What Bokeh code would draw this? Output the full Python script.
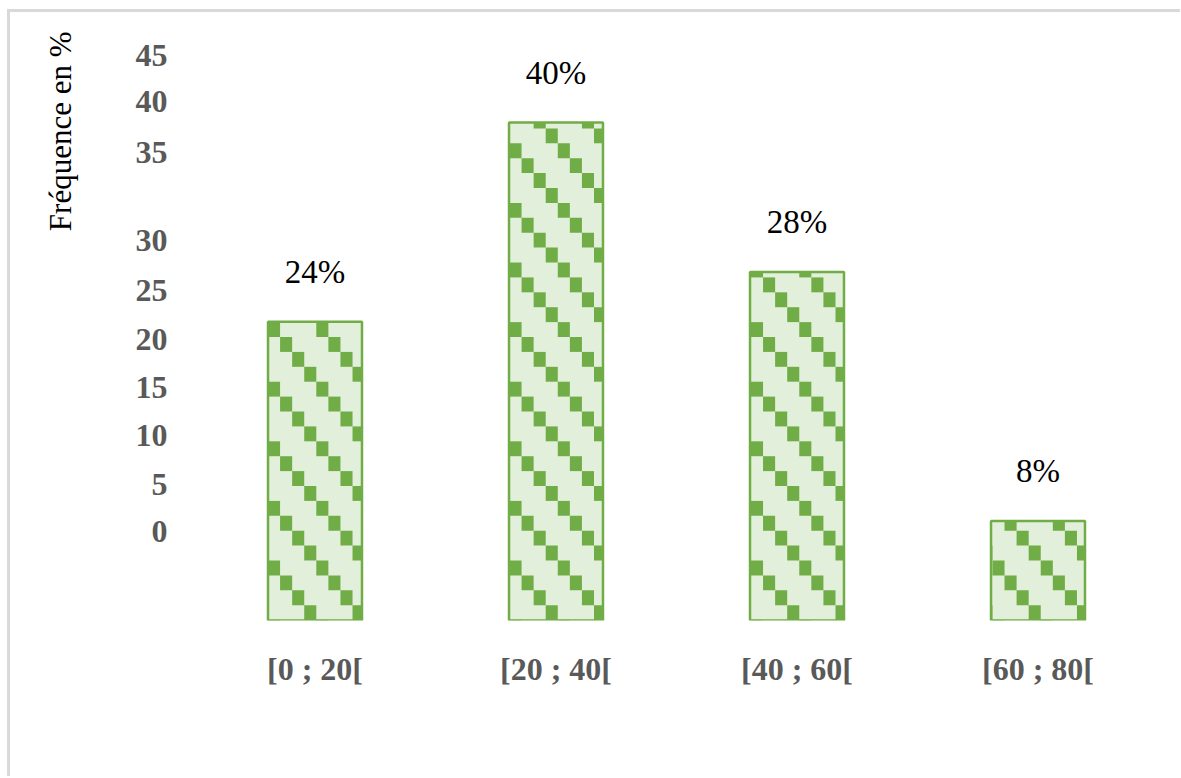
import math

from bokeh.core.properties import value
from bokeh.embed import file_html
from bokeh.layouts import row
from bokeh.models import ColumnDataSource, FactorRange, FixedTicker, Range1d
from bokeh.plotting import figure
from bokeh.resources import INLINE

# ---------------- data ----------------
categories = ["[0 ; 20[", "[20 ; 40[", "[40 ; 60[", "[60 ; 80["]
percentages = [24, 40, 28, 8]
value_labels = ["24%", "40%", "28%", "8%"]
ytick_labels = ["0", "5", "10", "15", "20", "25", "30", "35", "40", "45"]
ytick_pos = [7.15, 10.9, 14.85, 18.7, 22.55, 26.5, 30.5, 37.6, 41.7, 45.4]
y_title = "Fréquence en %"

# ---------------- styling constants ----------------
BAR_W = 0.39
FILL = "#E2EFDA"
GREEN = "#70AD47"
Y_MAX = 47.4
# pattern cell (data units) of the stepped diagonal "dashed downward diagonal" fill
CELL_W = 0.0501
CELL_H = 1.197
PAT_X0 = 0.305
PAT_Y0 = 4.82


def pattern_cells(centers, heights):
    """Squares of the stepped diagonal pattern, clipped to each bar."""
    L, R, T, B = [], [], [], []
    for c, v in zip(centers, heights):
        bl, br = c - BAR_W / 2, c + BAR_W / 2
        i0 = int((bl - PAT_X0) // CELL_W) - 1
        i1 = int((br - PAT_X0) // CELL_W) + 1
        j0 = int((PAT_Y0 - v) // CELL_H) - 1
        j1 = int(PAT_Y0 // CELL_H) + 2
        for i in range(i0, i1 + 1):
            for j in range(j0, j1 + 1):
                if (i - j) % 4:
                    continue
                l = PAT_X0 + CELL_W * i
                r = l + CELL_W
                t = PAT_Y0 - CELL_H * j
                b = t - CELL_H
                l, r = max(l, bl), min(r, br)
                t, b = min(t, v), max(b, 0)
                if r - l > 1e-6 and t - b > 1e-6:
                    L.append(l); R.append(r); T.append(t); B.append(b)
    return dict(left=L, right=R, top=T, bottom=B)


H = 764
TOP, BOTTOM = 18, 156

# ---------------- narrow figure holding the y title ----------------
pt = figure(width=100, height=H, x_range=Range1d(0, 1), y_range=Range1d(0, Y_MAX),
            output_backend="svg", toolbar_location=None,
            x_axis_type=None, y_axis_type=None,
            min_border_left=0, min_border_right=0, min_border_top=TOP, min_border_bottom=BOTTOM)
pt.outline_line_color = None
pt.xgrid.visible = False
pt.ygrid.visible = False
pt.text(x=[0.5], y=[39.3], text=[y_title], angle=math.pi / 2,
        text_font=value("Liberation Serif"), text_font_size="31px",
        text_color="black", text_align="center", text_baseline="middle")

# ---------------- main figure ----------------
p = figure(
    x_range=FactorRange(*categories, range_padding=0),
    y_range=Range1d(0, Y_MAX),
    width=1070, height=H,
    output_backend="svg", toolbar_location=None,
    min_border_left=84, min_border_right=22, min_border_top=TOP, min_border_bottom=BOTTOM,
)
p.outline_line_color = None
p.background_fill_color = "white"
p.border_fill_color = "white"
p.xgrid.visible = False
p.ygrid.visible = False

src = ColumnDataSource(dict(cat=categories, val=percentages, lab=value_labels))

# bar fill
p.vbar(x="cat", top="val", width=BAR_W, bottom=0, source=src,
       fill_color=FILL, line_color=None)

# pattern squares
centers = [i + 0.5 for i in range(len(categories))]
p.quad(source=ColumnDataSource(pattern_cells(centers, percentages)),
       left="left", right="right", top="top", bottom="bottom",
       fill_color=GREEN, line_color=None)

# bar outline
p.vbar(x="cat", top="val", width=BAR_W, bottom=0, source=src,
       fill_color=None, line_color=GREEN, line_width=2.5)

# value labels
p.text(x="cat", y="val", text="lab", source=src,
       text_font=value("Liberation Serif"), text_font_size="33px",
       text_color="black", text_align="center", text_baseline="middle",
       y_offset=-50)

# x axis
xa = p.xaxis[0]
xa.axis_line_color = None
xa.major_tick_line_color = None
xa.minor_tick_line_color = None
xa.major_label_text_font = "Liberation Serif"
xa.major_label_text_font_style = "bold"
xa.major_label_text_font_size = "32px"
xa.major_label_text_color = "#595959"
xa.major_label_standoff = 24

# y axis
ya = p.yaxis[0]
ya.ticker = FixedTicker(ticks=ytick_pos)
ya.major_label_overrides = {t: l for t, l in zip(ytick_pos, ytick_labels)}
ya.axis_line_color = None
ya.major_tick_line_color = None
ya.minor_tick_line_color = None
ya.major_label_text_font = "Liberation Serif"
ya.major_label_text_font_style = "bold"
ya.major_label_text_font_size = "32px"
ya.major_label_text_color = "#595959"
ya.major_label_standoff = 21

layout = row(pt, p)
layout.styles = {"border-top": "3px solid #d9d9d9", "border-left": "3px solid #d9d9d9",
                 "margin-left": "7px", "margin-top": "9px"}

open("out.html", "w").write(file_html(layout, INLINE))
